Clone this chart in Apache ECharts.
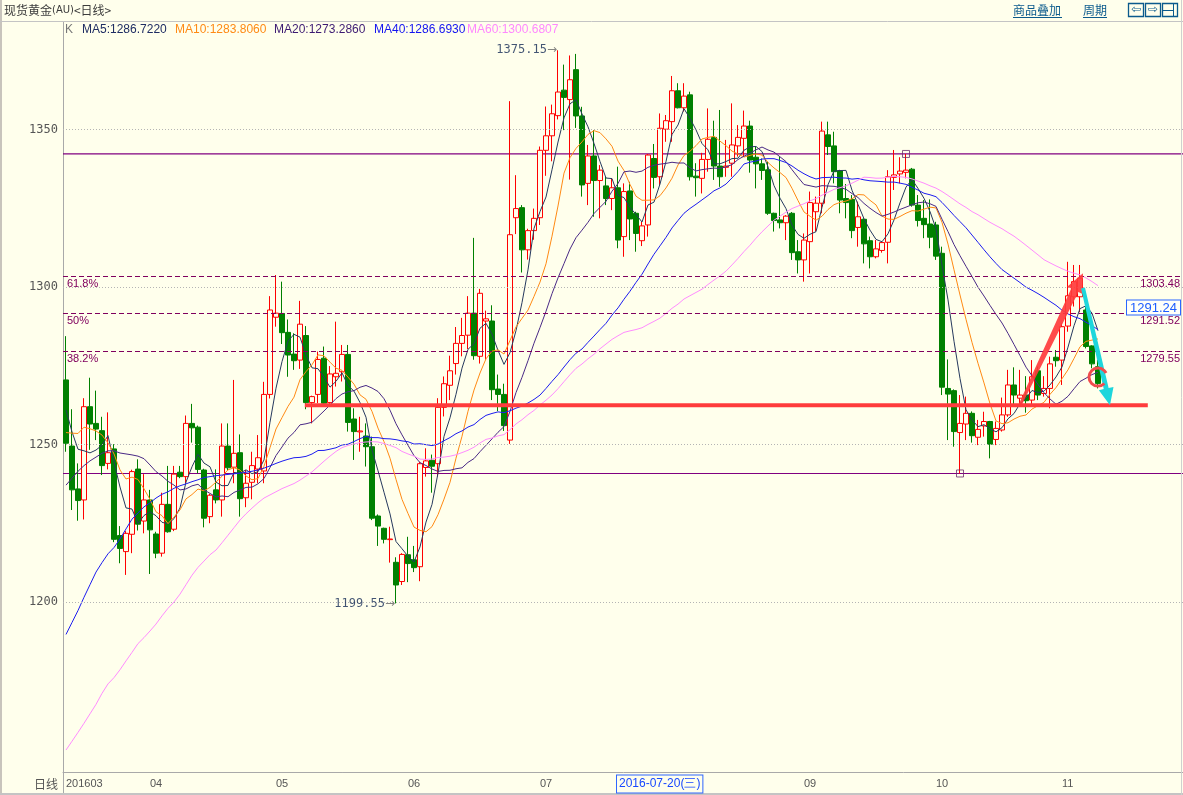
<!DOCTYPE html>
<html><head><meta charset="utf-8">
<script src="https://cdn.jsdelivr.net/npm/echarts@6/dist/echarts.min.js"></script>
<style>html,body{margin:0;padding:0;background:#FFFFEC;}#c{width:1183px;height:795px;}</style>
</head><body><div id="c"></div>
<script>
// ---------- DATA ----------
const opens=[1270.5,1249.5,1235.9,1232.4,1262.0,1256.7,1254.4,1244.0,1248.6,1221.1,
1216.0,1221.5,1242.2,1225.7,1232.4,1221.6,1215.5,1231.0,1223.1,1241.2,
1239.8,1256.7,1255.5,1241.9,1227.1,1235.6,1232.4,1249.5,1242.8,1247.4,
1233.1,1238.0,1242.2,1241.6,1265.9,1290.4,1291.6,1285.6,1278.7,1276.8,
1284.6,1263.3,1265.9,1277.4,1263.3,1271.5,1273.1,1278.6,1258.1,1254.0,
1252.7,1249.3,1227.3,1223.4,1219.8,1212.6,1206.5,1215.0,1213.4,1211.2,
1242.7,1245.0,1243.9,1261.8,1268.8,1275.7,1282.1,1284.7,1291.7,1278.0,
1289.2,1289.2,1267.6,1265.9,1251.4,1322.0,1325.2,1311.8,1317.9,1322.0,
1343.4,1348.0,1354.4,1362.5,1359.5,1369.0,1354.3,1332.9,1341.6,1333.8,
1332.1,1328.1,1331.5,1316.0,1330.5,1323.4,1314.7,1319.7,1340.8,1335.0,
1350.1,1352.5,1362.3,1356.9,1361.0,1335.2,1334.5,1340.5,1347.5,1338.4,
1338.0,1339.3,1344.8,1347.2,1351.1,1341.2,1339.1,1337.2,1323.4,1321.3,
1320.4,1323.4,1311.2,1308.6,1314.4,1323.9,1326.6,1348.3,1344.8,1336.9,
1328.1,1327.8,1318.9,1321.5,1314.7,1309.6,1311.6,1314.2,1334.8,1335.9,
1336.4,1337.4,1326.0,1321.8,1320.0,1319.7,1310.7,1267.8,1267.1,1253.8,
1256.5,1259.9,1252.3,1255.9,1257.3,1251.6,1254.6,1259.4,1268.9,1264.7,
1265.7,1264.1,1273.4,1266.2,1267.8,1277.7,1276.8,1287.6,1296.9,1296.9,
1292.7,1281.3,1274.7];
const closes=[1250.4,1235.6,1232.2,1262.0,1256.5,1254.9,1243.3,1247.4,1219.9,1217.0,
1221.8,1241.4,1224.7,1232.4,1222.9,1215.5,1231.0,1222.3,1240.6,1239.8,
1256.7,1255.3,1242.1,1226.6,1233.9,1232.4,1249.5,1242.6,1247.2,1232.8,
1237.7,1243.3,1245.8,1265.9,1292.7,1291.7,1285.5,1278.4,1276.6,1288.2,
1263.3,1265.2,1277.0,1263.1,1272.4,1272.6,1278.6,1257.0,1254.1,1254.3,
1249.3,1226.6,1224.1,1219.9,1220.0,1205.4,1215.1,1212.2,1210.9,1243.9,
1244.8,1243.1,1261.8,1269.3,1273.4,1282.1,1284.6,1291.7,1278.2,1298.0,
1289.9,1267.4,1265.9,1256.0,1316.6,1324.9,1311.8,1317.9,1321.8,1343.4,
1348.0,1355.0,1361.9,1360.2,1365.8,1354.3,1332.4,1341.6,1333.8,1337.1,
1328.1,1331.5,1314.9,1330.3,1321.6,1317.0,1319.4,1341.9,1334.8,1350.4,
1352.8,1362.3,1356.9,1360.6,1335.0,1334.7,1340.5,1346.9,1338.4,1335.0,
1338.4,1345.1,1347.5,1351.1,1340.3,1339.1,1337.0,1323.4,1321.1,1320.4,
1322.5,1310.9,1308.6,1314.9,1326.8,1326.6,1349.5,1344.6,1336.6,1327.6,
1326.8,1317.9,1322.3,1313.7,1309.6,1312.1,1314.1,1335.0,1335.6,1336.8,
1337.1,1326.0,1321.1,1319.8,1315.8,1309.8,1268.2,1266.0,1254.1,1256.7,
1259.9,1252.8,1254.8,1257.3,1250.1,1255.1,1259.4,1268.9,1265.7,1265.7,
1263.9,1271.5,1265.7,1267.8,1275.6,1276.6,1287.4,1297.2,1301.7,1302.8,
1281.1,1275.6,1269.4];
const lows=[1247.7,1229.2,1225.8,1226.2,1248.3,1251.4,1240.3,1242.1,1219.0,1212.3,
1208.6,1215.5,1222.7,1221.8,1208.9,1213.9,1214.4,1222.0,1222.5,1239.3,
1237.7,1250.6,1240.9,1223.7,1225.0,1231.3,1227.1,1241.9,1237.7,1227.1,
1230.1,1232.6,1237.7,1237.7,1264.6,1287.4,1281.9,1271.5,1273.7,1274.0,
1261.2,1256.7,1263.1,1262.0,1262.9,1268.4,1270.0,1254.1,1245.1,1247.7,
1243.0,1226.0,1217.8,1218.6,1212.5,1199.55,1205.4,1206.3,1209.5,1206.6,
1239.8,1234.7,1239.8,1258.9,1264.1,1272.2,1278.0,1280.3,1276.9,1275.7,
1276.9,1264.1,1260.6,1254.3,1250.2,1316.8,1304.6,1308.7,1315.0,1319.7,
1335.3,1339.9,1353.2,1349.8,1334.1,1350.5,1328.7,1326.0,1322.3,1321.8,
1326.0,1324.4,1312.3,1309.6,1314.9,1311.2,1313.0,1316.0,1331.3,1332.4,
1346.1,1346.1,1356.7,1355.7,1333.8,1328.7,1329.7,1336.6,1334.0,1331.8,
1335.0,1335.0,1341.4,1341.4,1336.3,1331.3,1334.0,1322.9,1317.6,1318.6,
1314.9,1308.6,1304.3,1301.7,1304.3,1317.6,1323.4,1341.9,1332.9,1323.4,
1321.8,1315.5,1312.8,1307.5,1305.9,1309.1,1310.9,1307.5,1330.8,1332.9,
1334.5,1325.5,1319.2,1315.5,1312.3,1308.6,1265.7,1251.4,1249.3,1240.8,
1251.4,1250.6,1249.8,1252.5,1245.6,1249.8,1254.1,1258.8,1262.0,1262.0,
1260.1,1262.2,1264.1,1265.2,1261.5,1274.7,1268.9,1285.8,1293.8,1292.0,
1280.5,1274.2,1267.8];
const highs=[1284.4,1261.2,1244.0,1264.7,1271.2,1267.1,1258.8,1260.2,1250.1,1224.1,
1222.5,1242.0,1245.3,1240.6,1235.6,1222.3,1234.7,1243.2,1243.2,1243.2,
1259.2,1262.9,1256.0,1242.3,1234.3,1242.1,1256.7,1256.7,1270.5,1253.2,
1241.9,1247.7,1253.0,1269.9,1297.1,1303.8,1301.7,1289.7,1285.3,1295.6,
1287.6,1265.5,1279.5,1281.1,1274.9,1289.0,1281.6,1281.6,1261.5,1258.8,
1256.7,1252.5,1227.8,1223.6,1223.9,1214.2,1215.5,1220.7,1217.8,1244.5,
1248.8,1246.8,1264.7,1271.6,1278.2,1287.3,1290.2,1297.1,1315.6,1299.4,
1292.5,1294.2,1272.2,1269.3,1359.0,1335.5,1326.0,1318.5,1324.9,1344.6,
1357.3,1357.9,1375.15,1370.6,1373.5,1374.0,1357.2,1345.1,1349.8,1338.7,
1335.0,1334.5,1338.2,1332.9,1333.4,1323.9,1320.7,1342.2,1345.4,1355.1,
1354.6,1367.0,1364.7,1364.7,1362.0,1339.3,1342.6,1356.7,1352.8,1356.2,
1346.7,1358.3,1351.4,1356.0,1352.8,1344.6,1340.8,1339.8,1323.6,1341.4,
1322.8,1323.8,1314.9,1317.0,1330.3,1328.7,1352.5,1352.5,1349.3,1337.2,
1332.7,1329.2,1327.1,1321.8,1316.0,1314.9,1314.5,1337.1,1343.5,1341.2,
1342.24,1337.8,1329.2,1327.6,1327.8,1320.7,1312.8,1277.0,1267.5,1265.7,
1265.2,1260.5,1257.8,1260.4,1257.5,1257.3,1264.9,1273.7,1274.5,1273.7,
1271.7,1276.8,1274.7,1271.7,1277.9,1280.0,1288.5,1308.0,1307.0,1307.0,
1295.3,1281.5,1276.8];

// moving-average values before a full window exists
const ma5Head=[1261.0,1254.0,1248.5,1248.0];
const ma10Head=[1253.8,1253.6,1253.5,1255.5,1255.0,1254.3,1253.0,1250.5,1247.0];
const ma20Head=[1237.1,1239.3,1241.5,1243.3,1244.8,1246.0,1247.2,1248.0,1248.0,1247.3,
1247.0,1246.7,1246.3,1245.5,1243.5,1241.4,1240.0,1238.3,1237.1];
const ma40Head=[1189.7,1193.5,1197.3,1201.5,1205.5,1209.5,1212.5,1215.3,1217.3,1220.0,
1223.2,1226.3,1228.3,1230.2,1231.5,1233.0,1234.2,1235.0,1236.1,1236.9,
1237.5,1238.2,1238.8,1239.5,1239.8,1240.1,1240.3,1240.5,1240.7,1240.9,
1241.2,1241.5,1241.9,1242.5,1243.2,1244.0,1244.7,1245.3,1245.8];
const ma60Head=[1153.0,1155.8,1158.6,1161.5,1164.5,1167.5,1171.0,1174.0,1176.0,1178.5,
1181.3,1184.0,1186.8,1188.7,1190.8,1193.0,1195.6,1198.0,1200.0,1202.5,
1205.5,1208.5,1211.0,1213.0,1215.0,1216.5,1218.8,1221.2,1223.6,1226.0,
1228.0,1229.8,1231.5,1233.0,1234.0,1235.0,1236.0,1236.8,1237.6,1238.7,
1240.0,1241.3,1243.0,1244.7,1246.3,1247.8,1249.0,1249.7,1250.2,1250.6,
1250.8,1250.9,1250.8,1250.3,1249.7,1249.0,1247.8,1247.0,1246.3];

const maNames=['MA5','MA10','MA20','MA40','MA60'];
const maPeriods=[5,10,20,40,60];
const maLegendValues=['1286.7220','1283.8060','1273.2860','1286.6930','1300.6807'];

const monthLabels=['201603','04','05','06','07','09','10','11'];
const monthStarts=[0,14,35,57,79,123,145,166];
const yTickValues=[1200,1250,1300,1350];

const fibLevels=[1303.48,1291.52,1279.55];
const fibLabels=['61.8%','50%','38.2%'];
const rangeLevels=[1342.24,1240.80];
const lastPrice=1291.24;
const highPoint=[82,1375.15];
const lowPoint=[55,1199.55];
const markerBoxes=[[140,1342.24],[149,1240.80]];
const supportLine=[[39.8,1262.5],[180.3,1262.5]];
const upArrow=[[159,1262.5],[169.5,1304.4]];
const downArrow=[[169.5,1299.7],[174,1262.5]];
const circleCenter=[172,1271.4];
const cursorIndex=92;
const cursorLabel='2016-07-20(三)';

// ---------- CHART ----------
const BG='#FFFFEC';
const SLOTS=187;
const maColors=['#26395e','#ff8a14','#4a2a86','#1c1cf0','#ff8cff'];
const legendColors=['#1e2c62','#ff8a14','#3c1a72','#1414f0','#ff88ff'];

const cats=Array.from({length:SLOTS},(_,i)=>String(i));
const kData=opens.map((o,i)=>[o,closes[i],lows[i],highs[i]]);
function movingAvg(n,head){
  return closes.map((c,i)=>{
    if(i<n-1) return head[i];
    let s=0; for(let k=i-n+1;k<=i;k++) s+=closes[k];
    return +(s/n).toFixed(3);
  });
}
const heads=[ma5Head,ma10Head,ma20Head,ma40Head,ma60Head];
const maSeries=maPeriods.map((p,k)=>({
  name:maNames[k], type:'line', xAxisIndex:0, data:movingAvg(p,heads[k]),
  symbol:'none', smooth:false, z:3, silent:true,
  lineStyle:{color:maColors[k],width:1}
}));

const fibColor='#80005e';
const fibMarks=[];
fibLevels.forEach((v,k)=>{
  fibMarks.push({yAxis:v,lineStyle:{color:fibColor,type:[5,3],width:1},
    label:{show:true,position:'insideStartBottom',formatter:fibLabels[k],
    color:fibColor,fontSize:11,fontFamily:'Liberation Sans',distance:[4,2]}});
  fibMarks.push({yAxis:v,lineStyle:{color:fibColor,width:0},
    label:{show:true,position:'insideEndBottom',formatter:v.toFixed(2),
    color:fibColor,fontSize:11,fontFamily:'Liberation Sans',distance:[5,2]}});
});

const rangeSeries=rangeLevels.map(v=>({
  type:'line',xAxisIndex:1,data:[[-0.5,v],[SLOTS-0.5,v]],symbol:'none',z:1,silent:true,
  lineStyle:{color:'#800080',width:1.2,type:'solid'}
}));

const option={
  backgroundColor:BG,
  animation:false,
  grid:{left:63,top:22,width:SLOTS*6,height:750,show:false,containLabel:false,outerBoundsMode:'none'},
  xAxis:[
    {type:'category',data:cats,boundaryGap:true,
     axisLine:{show:true,onZero:false,lineStyle:{color:'#a9a9a9'}},axisTick:{show:false},splitLine:{show:false},
     axisLabel:{interval:(i)=>monthStarts.includes(i),
       formatter:(v)=>{const k=monthStarts.indexOf(+v);return k>=0?monthLabels[k]:'';},
       color:'#555',fontSize:11,fontFamily:'Liberation Sans',align:'left',margin:6}},
    {type:'value',min:-0.5,max:SLOTS-0.5,show:false,axisLine:{show:false,onZero:false},splitLine:{show:false}}
  ],
  yAxis:{type:'value',min:1146.03,max:1384.13,
    axisLine:{show:true,onZero:false,lineStyle:{color:'#a9a9a9'}},axisTick:{show:false},splitLine:{show:false},
    axisLabel:{customValues:yTickValues,formatter:(v)=>String(Math.round(v)),
      color:'#555',fontSize:12,fontFamily:'DejaVu Sans Mono',margin:5}},
  series:[
    {type:'line',xAxisIndex:1,data:[],z:0,silent:true,
     markLine:{silent:true,animation:false,symbol:['none','none'],label:{show:false},
       data:yTickValues.map(v=>({yAxis:v,lineStyle:{color:'#b4b4b4',type:[1,2],width:1}}))}},
    ...rangeSeries,
    {type:'line',xAxisIndex:1,data:[],z:1,silent:true,
     markLine:{silent:true,animation:false,symbol:['none','none'],data:fibMarks}},
    {type:'candlestick',xAxisIndex:0,data:kData,barWidth:5,z:2,silent:true,
     itemStyle:{color:BG,color0:'#008000',borderColor:'#ff0000',borderColor0:'#008000',borderWidth:1}},
    ...maSeries,
    {type:'scatter',xAxisIndex:0,data:markerBoxes,symbol:'rect',symbolSize:7,z:6,silent:true,
     itemStyle:{color:'rgba(0,0,0,0)',borderColor:'#6b2d6b',borderWidth:1}},
    {type:'scatter',xAxisIndex:0,symbolSize:0,z:6,silent:true,
     data:[highPoint,lowPoint].map(p=>({value:p,label:{formatter:'{n|'+p[1].toFixed(2)+'}{a|→}'}})),
     label:{show:true,position:'left',distance:1,
       rich:{n:{fontFamily:'DejaVu Sans Mono',fontSize:12,color:'#142a55'},a:{fontFamily:'DejaVu Sans',fontSize:12,color:'#666'}}}},
    {type:'line',xAxisIndex:1,data:supportLine,symbol:'none',z:5,silent:true,
     lineStyle:{color:'#ff3c3c',width:4}}
  ]
};

const chart=echarts.init(document.getElementById('c'),null,{renderer:'canvas'});
chart.setOption(option);

function px(p){return chart.convertToPixel({xAxisIndex:1,yAxisIndex:0},p);}
function arrowPoly(a,b,w0,w1,headW,headL){
  const dx=b[0]-a[0],dy=b[1]-a[1],L=Math.hypot(dx,dy),ux=dx/L,uy=dy/L,nx=-uy,ny=ux;
  const hb=[b[0]-ux*headL,b[1]-uy*headL];
  return [[a[0]+nx*w0/2,a[1]+ny*w0/2],[hb[0]+nx*w1/2,hb[1]+ny*w1/2],[hb[0]+nx*headW/2,hb[1]+ny*headW/2],
    [b[0],b[1]],[hb[0]-nx*headW/2,hb[1]-ny*headW/2],[hb[0]-nx*w1/2,hb[1]-ny*w1/2],[a[0]-nx*w0/2,a[1]-ny*w0/2]];
}
const ua=[px(upArrow[0]),px(upArrow[1])];
const da=[px(downArrow[0]),px(downArrow[1])];
const cc=px(circleCenter);
const lpY=chart.convertToPixel({yAxisIndex:0},lastPrice);
const curX=px([cursorIndex,1300])[0];
const linkColor='#0b5a8c';

const legendX=[82,175,274,374,467];
const graphics=[
  {type:'rect',shape:{x:0,y:0,width:2,height:795},style:{fill:'#c8c4bc'},z:10},
  {type:'rect',shape:{x:0,y:793,width:1183,height:2},style:{fill:'#c4c4c4'},z:10},
  {type:'line',shape:{x1:0,y1:21.5,x2:1183,y2:21.5},style:{stroke:'#c4c4c4',lineWidth:1},z:10},
  {type:'line',shape:{x1:1181.5,y1:0,x2:1181.5,y2:795},style:{stroke:'#d0d0d0',lineWidth:1},z:10},
  {type:'line',shape:{x1:63.5,y1:772,x2:63.5,y2:793},style:{stroke:'#a9a9a9',lineWidth:1},z:10},
  {type:'text',x:4,y:10,style:{text:'现货黄金{s|(AU)}<日线>',font:'12px "Noto Sans CJK SC"',fill:'#3c3c3c',verticalAlign:'middle',
    rich:{s:{fontSize:10,fontFamily:'DejaVu Sans',fill:'#3c3c3c'}}},z:10},
  {type:'text',x:1013,y:10,style:{text:'商品叠加',font:'12px "Noto Sans CJK SC"',fill:linkColor,verticalAlign:'middle'},z:10},
  {type:'line',shape:{x1:1013,y1:17.5,x2:1062,y2:17.5},style:{stroke:linkColor,lineWidth:1},z:10},
  {type:'text',x:1083,y:10,style:{text:'周期',font:'12px "Noto Sans CJK SC"',fill:linkColor,verticalAlign:'middle'},z:10},
  {type:'line',shape:{x1:1083,y1:17.5,x2:1107,y2:17.5},style:{stroke:linkColor,lineWidth:1},z:10},
  {type:'rect',shape:{x:1128.5,y:3.5,width:15,height:13},style:{fill:'none',stroke:linkColor,lineWidth:1.3},z:10},
  {type:'rect',shape:{x:1145.5,y:3.5,width:15,height:13},style:{fill:'none',stroke:linkColor,lineWidth:1.3},z:10},
  {type:'rect',shape:{x:1162.5,y:3.5,width:15,height:13},style:{fill:'none',stroke:linkColor,lineWidth:1.3},z:10},
  {type:'text',x:1136,y:10,style:{text:'⇦',font:'12px "DejaVu Sans"',fill:linkColor,align:'center',verticalAlign:'middle'},z:10},
  {type:'text',x:1153,y:10,style:{text:'⇨',font:'12px "DejaVu Sans"',fill:linkColor,align:'center',verticalAlign:'middle'},z:10},
  {type:'line',shape:{x1:1173.5,y1:4,x2:1173.5,y2:16},style:{stroke:linkColor,lineWidth:1},z:10},
  {type:'line',shape:{x1:1163,y1:10.5,x2:1173,y2:10.5},style:{stroke:linkColor,lineWidth:1},z:10},
  {type:'text',x:65,y:30,style:{text:'K',font:'12px "Liberation Sans"',fill:'#777',verticalAlign:'middle'},z:10},
  ...maNames.map((n,k)=>({type:'text',x:legendX[k],y:30,
    style:{text:n+':'+maLegendValues[k],font:'12px "Liberation Sans"',fill:legendColors[k],verticalAlign:'middle'},z:10})),
  {type:'polygon',shape:{points:arrowPoly(ua[0],ua[1],3,8,17,19)},style:{fill:'rgba(255,60,60,0.92)'},z:20},
  {type:'polygon',shape:{points:arrowPoly(da[0],da[1],4,5,15,17)},style:{fill:'#1ed6dc'},z:20},
  {type:'arc',shape:{cx:cc[0],cy:cc[1],r:9,startAngle:Math.PI*0.25,endAngle:Math.PI*1.85,clockwise:true},
    style:{stroke:'#f04c4c',lineWidth:3,fill:null},z:21},
  {type:'text',x:1180,y:lpY,style:{text:lastPrice.toFixed(2),font:'13px "Liberation Sans"',fill:'#1c5cff',
    align:'right',verticalAlign:'bottom',padding:[1,3,0,3],borderColor:'#2a66ff',borderWidth:1,backgroundColor:'#fffff8'},z:22},
  {type:'text',x:34,y:784,style:{text:'日线',font:'12px "Noto Sans CJK SC"',fill:'#555',verticalAlign:'middle'},z:10},
  {type:'text',x:curX-1,y:784,style:{text:cursorLabel,font:'12px "Liberation Sans"',fill:'#1848ff',verticalAlign:'middle',
    padding:[3,2,2,2],borderColor:'#2f66ff',borderWidth:1,backgroundColor:BG},z:22}
];
chart.setOption({graphic:graphics});
</script></body></html>
